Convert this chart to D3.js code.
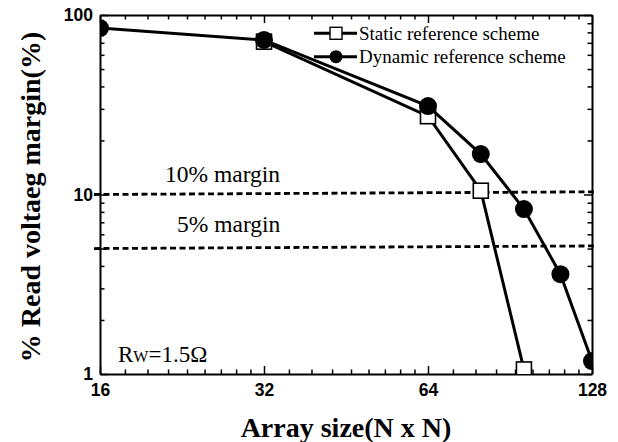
<!DOCTYPE html>
<html lang="en">
<head>
<meta charset="UTF-8">
<title>Read voltage margin vs array size</title>
<script src="https://d3js.org/d3.v7.min.js"></script>
<style>
  body { margin: 0; background: #fff; }
  svg { display: block; }
  .tick text { font-family: "Liberation Sans", Arial, sans-serif; font-weight: bold; font-size: 17.5px; fill: #000; }
  .axis path, .axis line { stroke: #000; }
</style>
</head>
<body>
<svg id="chart" width="618" height="442"></svg>
<script>
// data
const staticSizes = [32, 64, 80, 96];
const staticMargin = [71, 27.3, 10.5, 1.06];
const dynamicSizes = [16, 32, 64, 80, 96, 112, 128];
const dynamicMargin = [84.6, 72.6, 31.1, 16.8, 8.3, 3.6, 1.18];

// the two dashed reference lines (slightly tilted in the original)
const marginLabels = ["10% margin", "5% margin"];
const marginStart = [10, 5];
const marginEnd = [10.35, 5.17];
const marginX = [15.6, 129];

const xTicks = [16, 32, 64, 128];
const yTicks = [1, 10, 100];
const seriesNames = ["Static reference scheme", "Dynamic reference scheme"];

const svg = d3.select("#chart");
const plotLeft = 100, plotRight = 592, plotTop = 15, plotBottom = 374;

const x = d3.scaleLog().base(2).domain([16, 128]).range([plotLeft, plotRight]);
const y = d3.scaleLog().base(10).domain([1, 100]).range([plotBottom, plotTop]);

// minor ticks: 8 evenly spaced values inside each octave / 2..9 in each decade
const xMinor = [];
xTicks.slice(0, -1).forEach(a => { for (let k = 1; k <= 8; k++) xMinor.push(a + k * a / 9); });
const yMinor = [];
yTicks.slice(0, -1).forEach(a => { for (let k = 2; k <= 9; k++) yMinor.push(a * k); });

function drawAxis(gen, transform, values, size, labels) {
  const g = svg.append("g").attr("class", "axis").attr("transform", transform)
    .call(gen.tickValues(values).tickSizeInner(-size).tickSizeOuter(0)
      .tickFormat(labels ? d3.format("d") : ""));
  g.select(".domain").attr("stroke-width", 2);
  g.selectAll(".tick line").attr("stroke-width", 1.5);
  return g;
}

// bottom / left with labels, top / right without
drawAxis(d3.axisBottom(x).tickPadding(10), `translate(0,${plotBottom})`, xTicks, 8, true);
drawAxis(d3.axisBottom(x), `translate(0,${plotBottom})`, xMinor, 4.5, false).select(".domain").remove();
drawAxis(d3.axisTop(x), `translate(0,${plotTop})`, xTicks, 8, false);
drawAxis(d3.axisTop(x), `translate(0,${plotTop})`, xMinor, 4.5, false).select(".domain").remove();
drawAxis(d3.axisLeft(y).tickPadding(7), `translate(${plotLeft},0)`, yTicks, 8, true);
drawAxis(d3.axisLeft(y), `translate(${plotLeft},0)`, yMinor, 4.5, false).select(".domain").remove();
drawAxis(d3.axisRight(y), `translate(${plotRight},0)`, yTicks, 8, false);
drawAxis(d3.axisRight(y), `translate(${plotRight},0)`, yMinor, 4.5, false).select(".domain").remove();

// dashed margin lines
marginLabels.forEach((lab, i) => {
  svg.append("line")
    .attr("x1", x(marginX[0])).attr("x2", x(marginX[1]))
    .attr("y1", y(marginStart[i])).attr("y2", y(marginEnd[i]))
    .attr("stroke", "#000").attr("stroke-width", 2.8)
    .attr("stroke-dasharray", "6,3.5");
});
svg.append("text").attr("x", 165).attr("y", 182)
  .style("font-family", "'Liberation Serif', 'Times New Roman', serif").style("font-size", "23.5px")
  .text(marginLabels[0]);
svg.append("text").attr("x", 177).attr("y", 232)
  .style("font-family", "'Liberation Serif', 'Times New Roman', serif").style("font-size", "23.5px")
  .text(marginLabels[1]);

// Rw annotation
const rw = svg.append("text").attr("x", 118).attr("y", 362)
  .style("font-family", "'Liberation Serif', 'Times New Roman', serif").style("font-size", "23px");
rw.append("tspan").text("R");
rw.append("tspan").style("font-size", "16px").text("W");
rw.append("tspan").text("=1.5Ω");

// clip data to the plot frame
svg.append("clipPath").attr("id", "plot").append("rect")
  .attr("x", plotLeft).attr("y", plotTop).attr("width", plotRight - plotLeft).attr("height", plotBottom - plotTop);
const plot = svg.append("g").attr("clip-path", "url(#plot)");

const line = d3.line().x(d => x(d[0])).y(d => y(d[1]));
const staticPts = staticSizes.map((s, i) => [s, staticMargin[i]]);
const dynamicPts = dynamicSizes.map((s, i) => [s, dynamicMargin[i]]);

plot.append("path").datum(staticPts).attr("d", line)
  .attr("fill", "none").attr("stroke", "#000").attr("stroke-width", 3);
plot.selectAll(".sq").data(staticPts).join("rect").attr("class", "sq")
  .attr("x", d => x(d[0]) - 7.5).attr("y", d => y(d[1]) - 7.5)
  .attr("width", 15).attr("height", 15)
  .attr("fill", "#fff").attr("stroke", "#000").attr("stroke-width", 1.6);

plot.append("path").datum(dynamicPts).attr("d", line)
  .attr("fill", "none").attr("stroke", "#000").attr("stroke-width", 3);
plot.selectAll(".dot").data(dynamicPts).join("circle").attr("class", "dot")
  .attr("cx", d => x(d[0])).attr("cy", d => y(d[1])).attr("r", 9)
  .attr("fill", "#000");

// legend
const legendY = [33.3, 56.7];
seriesNames.forEach((name, i) => {
  const g = svg.append("g").attr("transform", `translate(0,${legendY[i]})`);
  g.append("line").attr("x1", 314).attr("x2", 357).attr("stroke", "#000").attr("stroke-width", 3);
  if (i === 0) {
    g.append("rect").attr("x", 330).attr("y", -6).attr("width", 12).attr("height", 12)
      .attr("fill", "#fff").attr("stroke", "#000").attr("stroke-width", 1.4);
  } else {
    g.append("circle").attr("cx", 336).attr("cy", 0).attr("r", 6.5).attr("fill", "#000");
  }
  g.append("text").attr("x", 359).attr("y", 6.5)
    .style("font-family", "'Liberation Serif', 'Times New Roman', serif").style("font-size", "19px")
    .text(name);
});

// axis titles
svg.append("text").attr("x", 346).attr("y", 437).attr("text-anchor", "middle")
  .style("font-family", "'Liberation Serif', 'Times New Roman', serif").style("font-weight", "bold").style("font-size", "28px")
  .text("Array size(N x N)");
svg.append("text").attr("transform", "translate(40,197) rotate(-90)").attr("text-anchor", "middle")
  .style("font-family", "'Liberation Serif', 'Times New Roman', serif").style("font-weight", "bold").style("font-size", "28px")
  .text("% Read voltaeg margin(%)");
</script>
</body>
</html>
